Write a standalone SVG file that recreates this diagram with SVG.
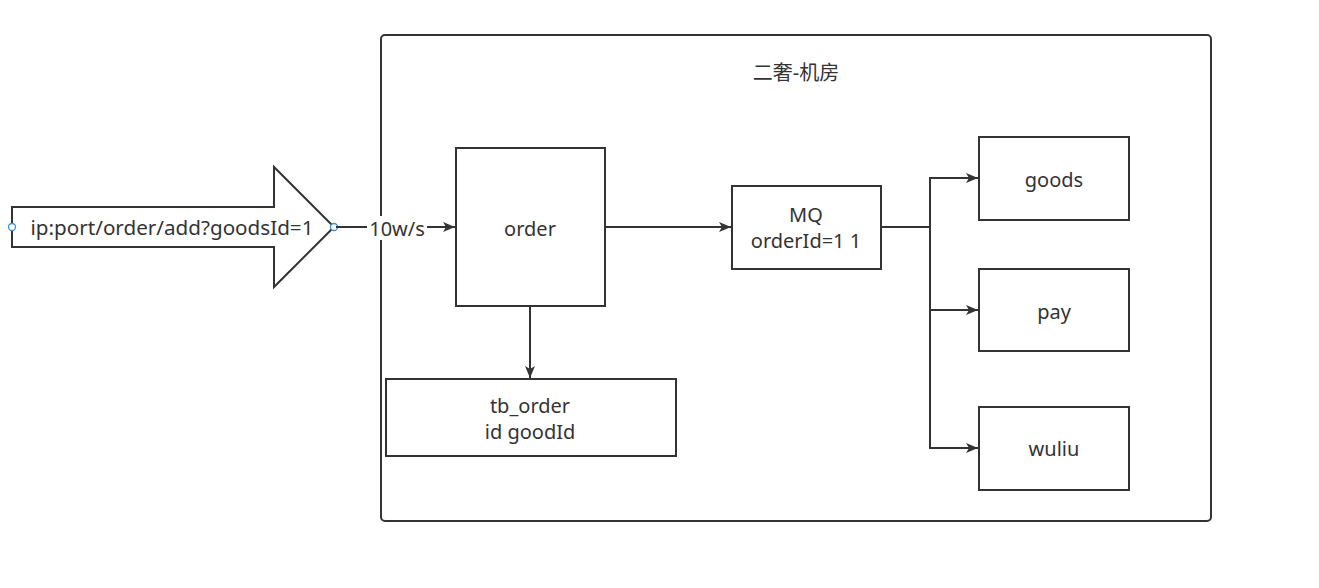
<svg xmlns="http://www.w3.org/2000/svg" width="1319" height="588" viewBox="0 0 1319 588">
<defs>
<style>
.box{fill:#fff;stroke:#333;stroke-width:2}
.t{font-family:"Microsoft YaHei","Noto Sans","Noto Sans CJK SC",sans-serif;font-size:20px;fill:#333;text-anchor:middle;dominant-baseline:central}
.c{fill:none;stroke:#333;stroke-width:2}
</style>
<marker id="ah" viewBox="0 0 12 10" refX="12" refY="5" markerWidth="12" markerHeight="10" markerUnits="userSpaceOnUse" orient="auto">
<path d="M0,0 L12,5 L0,10 L3,5 Z" fill="#333"/>
</marker>
</defs>
<rect width="1319" height="588" fill="#fff"/>
<g id="container">
<rect x="381" y="35" width="830" height="486" rx="4" class="box"/>
<text x="796" y="72" class="t">二奢-机房</text>
</g>
<g id="request">
<path d="M12,207 L274,207 L274,167 L334,227 L274,287 L274,247 L12,247 Z" class="box"/>
<text x="172" y="227" class="t" textLength="283" lengthAdjust="spacingAndGlyphs">ip:port/order/add?goodsId=1</text>
<circle cx="12" cy="227" r="3.5" fill="#fff" stroke="#3b8fd9" stroke-width="1.3"/>
<circle cx="334" cy="227" r="3.5" fill="#fff" stroke="#3b8fd9" stroke-width="1.3"/>
</g>
<g id="order">
<rect x="456" y="148" width="149" height="158" class="box"/>
<text x="530" y="228" class="t">order</text>
</g>
<g id="mq">
<rect x="732" y="186" width="149" height="83" class="box"/>
<text x="806" y="214" class="t">MQ</text>
<text x="806" y="240" class="t">orderId=1 1</text>
</g>
<g id="goods">
<rect x="979" y="137" width="150" height="83" class="box"/>
<text x="1054" y="179" class="t">goods</text>
</g>
<g id="pay">
<rect x="979" y="269" width="150" height="82" class="box"/>
<text x="1054" y="311" class="t">pay</text>
</g>
<g id="wuliu">
<rect x="979" y="407" width="150" height="83" class="box"/>
<text x="1054" y="448" class="t">wuliu</text>
</g>
<g id="tb_order">
<rect x="386" y="379" width="290" height="77" class="box"/>
<text x="530" y="405" class="t">tb_order</text>
<text x="530" y="431" class="t">id goodId</text>
</g>
<g id="connectors">
<path d="M336,227 L455,227" class="c" marker-end="url(#ah)"/>
<rect x="367" y="216" width="60" height="24" fill="#fff"/>
<text x="397" y="228" class="t">10w/s</text>
<path d="M605,227 L731,227" class="c" marker-end="url(#ah)"/>
<path d="M530,306 L530,378" class="c" marker-end="url(#ah)"/>
<path d="M881,227 L930,227 L930,178 L978,178" class="c" marker-end="url(#ah)"/>
<path d="M881,227 L930,227 L930,310 L978,310" class="c" marker-end="url(#ah)"/>
<path d="M881,227 L930,227 L930,448 L978,448" class="c" marker-end="url(#ah)"/>
</g>
</svg>
